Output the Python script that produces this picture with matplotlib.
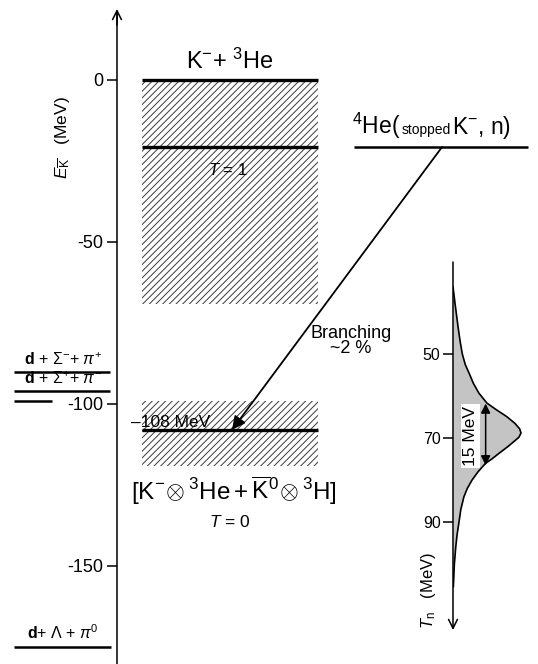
import matplotlib
matplotlib.use('Agg')
import matplotlib.pyplot as plt

plt.rcParams['font.family'] = ['Liberation Sans', 'DejaVu Sans']
plt.rcParams['mathtext.fontset'] = 'custom'
plt.rcParams['mathtext.rm'] = 'Liberation Sans'
plt.rcParams['mathtext.it'] = 'Liberation Sans:italic'
plt.rcParams['mathtext.bf'] = 'Liberation Sans:bold'
plt.rcParams['axes.unicode_minus'] = False
plt.rcParams['hatch.linewidth'] = 0.7
plt.rcParams['hatch.color'] = '#3a3a3a'

# energy levels (MeV)
threshold = 0.0
t1_level = -20.7
band_t1 = (-69.0, 0.0)
bound_state = -108.0
band_t0 = (-119.0, -99.0)
initial_level = -20.7
left_levels = [-90.2, -95.9, -99.0, -174.9]
left_labels = [r'$\mathbf{d}$ + $\Sigma^{-}$+ $\pi^{+}$',
               r'$\mathbf{d}$ + $\Sigma^{+}$+ $\pi^{-}$',
               '',
               r'$\mathbf{d}$+ $\Lambda$ + $\pi^{0}$']
left_ends = [110, 110, 52, 111]
e_ticks = [0, -50, -100, -150]

# neutron kinetic energy spectrum (rel. intensity)
tn = [34, 38, 43.5, 47, 50, 52.5, 54.5, 57, 59.3, 61.7, 63.3, 64.9, 66.5,
      67.8, 68.8, 69.8, 70.5, 72, 73.6, 75, 76, 78, 80, 82, 84, 87, 90,
      93, 96, 100, 105.4]
intensity = [0.0, 0.03, 0.074, 0.105, 0.137, 0.18, 0.235, 0.30, 0.38, 0.50,
             0.64, 0.79, 0.91, 0.98, 1.0, 0.97, 0.92, 0.81, 0.68, 0.57,
             0.48, 0.37, 0.28, 0.21, 0.16, 0.115, 0.088, 0.06, 0.04, 0.02,
             0.005]
tn_ticks = [50, 70, 90]
fwhm = (61.8, 76.5)

W, H = 538, 664
fig = plt.figure(figsize=(W / 100, H / 100), dpi=100)
ax = fig.add_axes([0, 0, 1, 1])
ax.patch.set_alpha(0)


def ey(ypx):
    # pixel row -> energy (layout helper for text placement)
    return (80 - ypx) / 3.24


ax.set_xlim(0, W)
ax.set_ylim(ey(H), ey(0))
for s in ['top', 'right', 'bottom']:
    ax.spines[s].set_visible(False)
ax.spines['left'].set_position(('data', 117))
ax.spines['left'].set_bounds(ey(H), ey(12))
ax.spines['left'].set_linewidth(1.1)
ax.set_xticks([])
ax.set_yticks(e_ticks)
ax.set_yticklabels([str(t) for t in e_ticks])
ax.tick_params(axis='y', direction='out', length=7, width=1.1, labelsize=13, pad=3)
ax.annotate('', xy=(117, ey(9)), xytext=(117, ey(25)),
            arrowprops=dict(arrowstyle='->', lw=1.1, color='k', mutation_scale=16,
                            shrinkA=0, shrinkB=0))

# hatched bands
bx = (141.7, 318)
for band in (band_t1, band_t0):
    ax.fill_between(bx, band[0], band[1], facecolor='white', edgecolor='#3a3a3a',
                    hatch='/////', linewidth=0)
ax.hlines([threshold, t1_level], bx[0], bx[1], color='k', lw=2.4)
ax.hlines(bound_state, bx[0], bx[1], color='k', lw=2.4)

# left thresholds
for lvl, lab, xe in zip(left_levels, left_labels, left_ends):
    ax.hlines(lvl, 14, xe, color='k', lw=1.8)
    if lab:
        ax.text(63, lvl + 1.3, lab, ha='center', va='bottom', fontsize=11.5)

# texts
ax.text(230, ey(69), r'K$^{-}$+ $^{3}$He', ha='center', va='baseline', fontsize=17)
ax.text(228, ey(175), r'$T$ = 1', ha='center', va='baseline', fontsize=12)
ax.text(131, ey(427), '\u2013108 MeV', ha='left', va='baseline', fontsize=12.5)
ax.text(234, ey(500),
        r'$[\mathrm{K}^{-}\!\otimes{}^{3}\mathrm{He}+\overline{\mathrm{K}}^{0}\!\otimes{}^{3}\mathrm{H}]$',
        ha='center', va='baseline', fontsize=17.5)
ax.text(230, ey(527), r'$T$ = 0', ha='center', va='baseline', fontsize=12.5)
ax.text(351, ey(353), 'Branching\n~2 %', ha='center', va='baseline', fontsize=13,
        linespacing=0.85)

# initial state
ax.hlines(initial_level, 354, 528, color='k', lw=1.8)
fig.canvas.draw()
rend = fig.canvas.get_renderer()
xb = 352
for s, fs in [(r'$^{4}$He(', 16.5), ('stopped', 10), (r'K$^{-}$, n)', 16.5)]:
    t = ax.text(xb, ey(134), s, ha='left', va='baseline', fontsize=fs)
    bb = t.get_window_extent(rend)
    xb = ax.transData.inverted().transform((bb.x1, 0))[0] + 1

ax.annotate('', xy=(232, bound_state), xytext=(442, initial_level),
            arrowprops=dict(arrowstyle='-|>', lw=1.3, color='k', mutation_scale=20,
                            shrinkA=0, shrinkB=0))

fig.text(63 / W, 1 - 138 / H, r'$E_{\overline{\mathrm{K}}}$   (MeV)', rotation=90,
         ha='center', va='center', fontsize=12.5)

# neutron spectrum inset
sx = fig.add_axes([453 / W, (H - 630) / H, (W - 453) / W, (630 - 262) / H])
sx.patch.set_alpha(0)
sx.set_xlim(0, 85 / 68)
sx.set_ylim(115.7, 28.1)
for s in sx.spines.values():
    s.set_visible(False)
sx.fill_betweenx(tn, 0, intensity, color='#c4c4c4', lw=0)
sx.plot(intensity, tn, color='k', lw=1.2)
sx.set_xticks([])
sx.set_yticks(tn_ticks)
sx.tick_params(axis='y', direction='out', length=7, width=1.1, labelsize=11.5, pad=2)
sx.annotate('', xy=(0, 0), xytext=(0, 1), xycoords='axes fraction',
            arrowprops=dict(arrowstyle='->', lw=1.1, color='k', mutation_scale=16,
                            shrinkA=0, shrinkB=0))
sx.annotate('', xy=(0.48, fwhm[0]), xytext=(0.48, fwhm[1]),
            arrowprops=dict(arrowstyle='<|-|>', lw=1.1, color='k', mutation_scale=14,
                            shrinkA=0, shrinkB=0))
sx.text(0.26, 69.5, '15 MeV', rotation=90, ha='center', va='center', fontsize=12.5,
        bbox=dict(facecolor='white', edgecolor='none', pad=1.5))
fig.text(428 / W, 1 - 590 / H, r'$T_{\mathrm{n}}$   (MeV)', rotation=90,
         ha='center', va='center', fontsize=12)

fig.savefig('out.png', dpi=100)
